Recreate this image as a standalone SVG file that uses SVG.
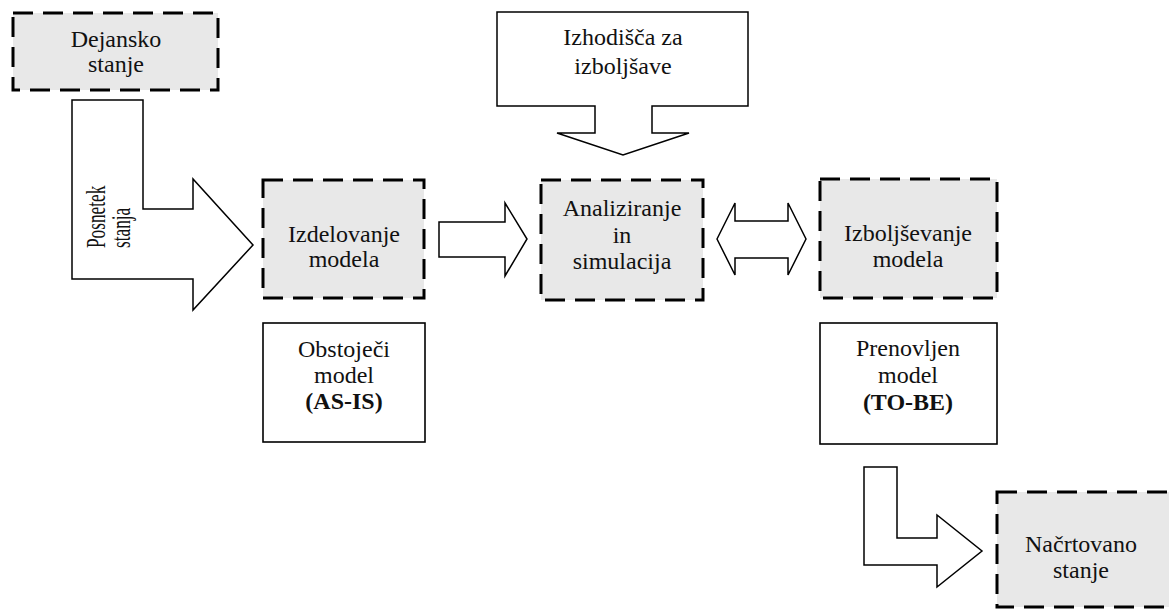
<svg xmlns="http://www.w3.org/2000/svg" width="1169" height="612" viewBox="0 0 1169 612">
  <style>
    .state { fill: #e8e8e8; stroke: #000; stroke-width: 3; stroke-dasharray: 20 10; }
    .model { fill: #fff; stroke: #000; stroke-width: 1.6; }
    .flow { fill: #fff; stroke: #000; stroke-width: 1.5; stroke-linejoin: miter; }
    text { font-family: "Liberation Serif", "Times New Roman", serif; font-size: 24px; fill: #111; text-anchor: middle; }
    .b { font-weight: bold; }
    /* condensed label running along the bent arrow */
    .vert { font-size: 27px; text-anchor: start; }
  </style>
  <rect width="1169" height="612" fill="#fff"/>

  <!-- block arrows -->
  <g id="connectors">
    <!-- Posnetek stanja: bent arrow from Dejansko stanje into Izdelovanje modela -->
    <path class="flow" d="M72,100 H143 V209 H193 V179 L253,245 L193,310 V279 H72 Z"/>
    <text class="vert" transform="translate(105,248) rotate(-90) scale(0.64,1)">Posnetek</text>
    <text class="vert" transform="translate(130,248) rotate(-90) scale(0.64,1)">stanja</text>
    <!-- Izhodišča za izboljšave: callout pointing down -->
    <path class="flow" d="M497,12 H748 V106 H652 V133 H689 L623,155 L557,133 H595 V106 H497 Z"/>
    <!-- Izdelovanje -> Analiziranje -->
    <path class="flow" d="M439,222 H505 V203 L527,239 L505,276 V257 H439 Z"/>
    <!-- Analiziranje <-> Izboljševanje -->
    <path class="flow" d="M717,239 L735,203 V221 H788 V203 L806,239 L788,275 V258 H735 V275 Z"/>
    <!-- Prenovljen model -> Načrtovano stanje -->
    <path class="flow" d="M864,467 H897 V538 H937 V515 L982,551 L937,587 V565 H864 Z"/>
  </g>

  <g id="izhodisca">
    <text x="623" y="45">Izhodišča za</text>
    <text x="623" y="74">izboljšave</text>
  </g>

  <g id="dejansko-stanje">
    <rect class="state" x="13" y="13" width="205" height="77"/>
    <text x="116" y="47">Dejansko</text>
    <text x="116" y="72">stanje</text>
  </g>

  <g id="izdelovanje-modela">
    <rect class="state" x="263" y="180" width="161" height="118"/>
    <text x="344" y="242">Izdelovanje</text>
    <text x="344" y="267">modela</text>
  </g>

  <g id="analiziranje">
    <rect class="state" x="541" y="180" width="162" height="120"/>
    <text x="622" y="216">Analiziranje</text>
    <text x="622" y="243">in</text>
    <text x="622" y="269">simulacija</text>
  </g>

  <g id="izboljsevanje-modela">
    <rect class="state" x="820" y="179" width="177" height="119"/>
    <text x="908" y="241">Izboljševanje</text>
    <text x="908" y="267">modela</text>
  </g>

  <g id="obstojeci-model">
    <rect class="model" x="263" y="323" width="162" height="119"/>
    <text x="344" y="357">Obstoječi</text>
    <text x="344" y="383">model</text>
    <text class="b" x="344" y="409">(AS-IS)</text>
  </g>

  <g id="prenovljen-model">
    <rect class="model" x="820" y="323" width="177" height="121"/>
    <text x="908" y="356">Prenovljen</text>
    <text x="908" y="383">model</text>
    <text class="b" x="908" y="410">(TO-BE)</text>
  </g>

  <g id="nacrtovano-stanje">
    <rect class="state" x="997" y="492" width="176" height="115"/>
    <text x="1081" y="552">Načrtovano</text>
    <text x="1081" y="578">stanje</text>
  </g>
</svg>
